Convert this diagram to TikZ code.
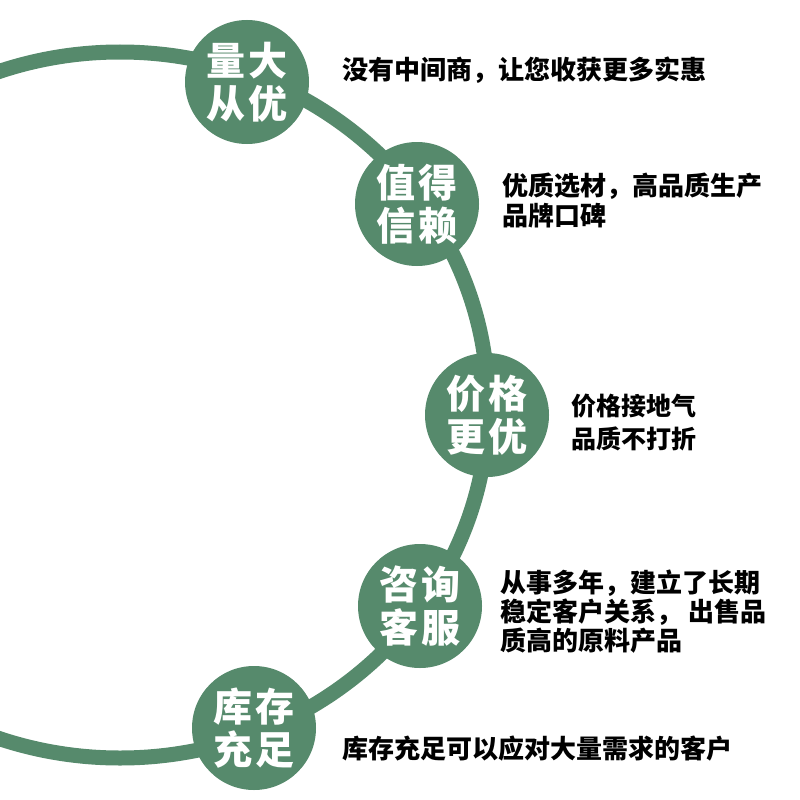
\documentclass[tikz,border=0pt]{standalone}
\usepackage{fontspec}
\newfontfamily\cjk{Noto Sans CJK SC}
\definecolor{leaf}{RGB}{86,138,108}
\tikzset{
  badge/.style={circle, fill=leaf, minimum size=124pt, inner sep=0pt, text=white,
    align=center, font=\cjk\bfseries\fontsize{39}{43}\selectfont},
  note/.style={anchor=west, inner sep=0pt, align=left, text=black,
    font=\cjk\bfseries\fontsize{26}{30}\selectfont},
}
\begin{document}
\begin{tikzpicture}[x=1pt,y=-1pt]
\useasboundingbox (0,0) rectangle (800,800);
\begin{scope}
\clip (0,0) rectangle (800,800);
\draw[leaf, line width=15pt] (120,405) ellipse [x radius=368, y radius=353];
\end{scope}
\node[badge] (b1) at (247,82) {量\kern3pt 大\\从\kern3pt 优};
\node[badge] (b2) at (417,204) {值\kern3pt 得\\信\kern3pt 赖};
\node[badge] (b3) at (487,415) {价\kern3pt 格\\更\kern3pt 优};
\node[badge] (b4) at (420,606) {咨\kern3pt 询\\客\kern3pt 服};
\node[badge] (b5) at (254,728) {库\kern3pt 存\\充\kern3pt 足};
\node[note] (t1) at (342,70) {没有中间商，让您收获更多实惠};
\node[note] (t2) at (502,200.5) {优质选材，高品质生产\\品牌口碑};
\node[note, font=\cjk\bfseries\fontsize{25}{33}\selectfont] (t3) at (571,422.5) {价格接地气\\品质不打折};
\node[note, font=\cjk\bfseries\fontsize{26}{29}\selectfont] (t4) at (500,612) {从事多年，建立了长期\\稳定客户关系， 出售品\\质高的原料产品};
\node[note] (t5) at (342,749) {库存充足可以应对大量需求的客户};
\end{tikzpicture}
\end{document}
